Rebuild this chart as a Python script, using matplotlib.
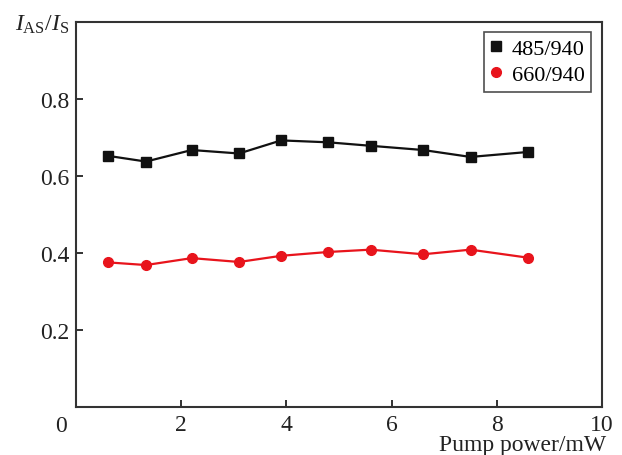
import matplotlib
matplotlib.use("Agg")
import matplotlib.pyplot as plt

pump_power = [0.6, 1.33, 2.2, 3.1, 3.9, 4.8, 5.6, 6.6, 7.5, 8.6]
ratio_485 = [0.653, 0.638, 0.668, 0.659, 0.693, 0.688, 0.679, 0.668, 0.650, 0.663]
ratio_660 = [0.376, 0.369, 0.387, 0.377, 0.393, 0.403, 0.409, 0.397, 0.409, 0.388]
x_ticks = [2, 4, 6, 8, 10]
y_ticks = [0.2, 0.4, 0.6, 0.8]

plt.rcParams['font.family'] = ['Liberation Serif', 'DejaVu Serif']
plt.rcParams['mathtext.fontset'] = 'custom'
plt.rcParams['mathtext.it'] = 'Liberation Serif:italic'
plt.rcParams['mathtext.rm'] = 'Liberation Serif'

fig = plt.figure(figsize=(6.22, 4.56), dpi=100)
ax = fig.add_axes([76/622, 1-408/456, (602-76)/622, (408-23.3)/456])

ax.plot(pump_power, ratio_485, color='#111111', lw=1.6, marker='s', ms=6.5, label='485/940')
ax.plot(pump_power, ratio_660, color='#e8141c', lw=1.6, marker='o', ms=7, label='660/940')

ax.set_xlim(0, 10)
ax.set_ylim(0, 1.0)
ax.set_xticks(x_ticks)
ax.set_yticks(y_ticks)
ax.set_xticklabels([str(t) for t in x_ticks])
ax.set_yticklabels([f"{t:.1f}" for t in y_ticks])
ax.tick_params(direction='in', length=5, width=1.3, labelsize=17, colors='#222222', pad=5)
for s in ax.spines.values():
    s.set_linewidth(1.5)
    s.set_color('#333333')

ax.text(-0.018, -0.022, '0', transform=ax.transAxes, ha='right', va='top', fontsize=17, color='#222222')

leg = ax.legend(loc='upper right', bbox_to_anchor=(0.98, 0.975), fontsize=16, frameon=True,
                fancybox=False, edgecolor='#222222', handlelength=0.5, handletextpad=0.45,
                borderpad=0.3, labelspacing=0.25, borderaxespad=0.0)
leg.get_frame().set_linewidth(1.2)
for h in leg.legend_handles:
    h.set_linestyle('None')

fig.text(15/622, 1-25/456, r'$I_{\mathrm{AS}}/I_{\mathrm{S}}$', fontsize=17, ha='left', va='center', color='#222222')
fig.text(606/622, 1-446/456, 'Pump power/mW', fontsize=17, ha='right', va='center', color='#222222')

fig.savefig('out.png', dpi=100)
